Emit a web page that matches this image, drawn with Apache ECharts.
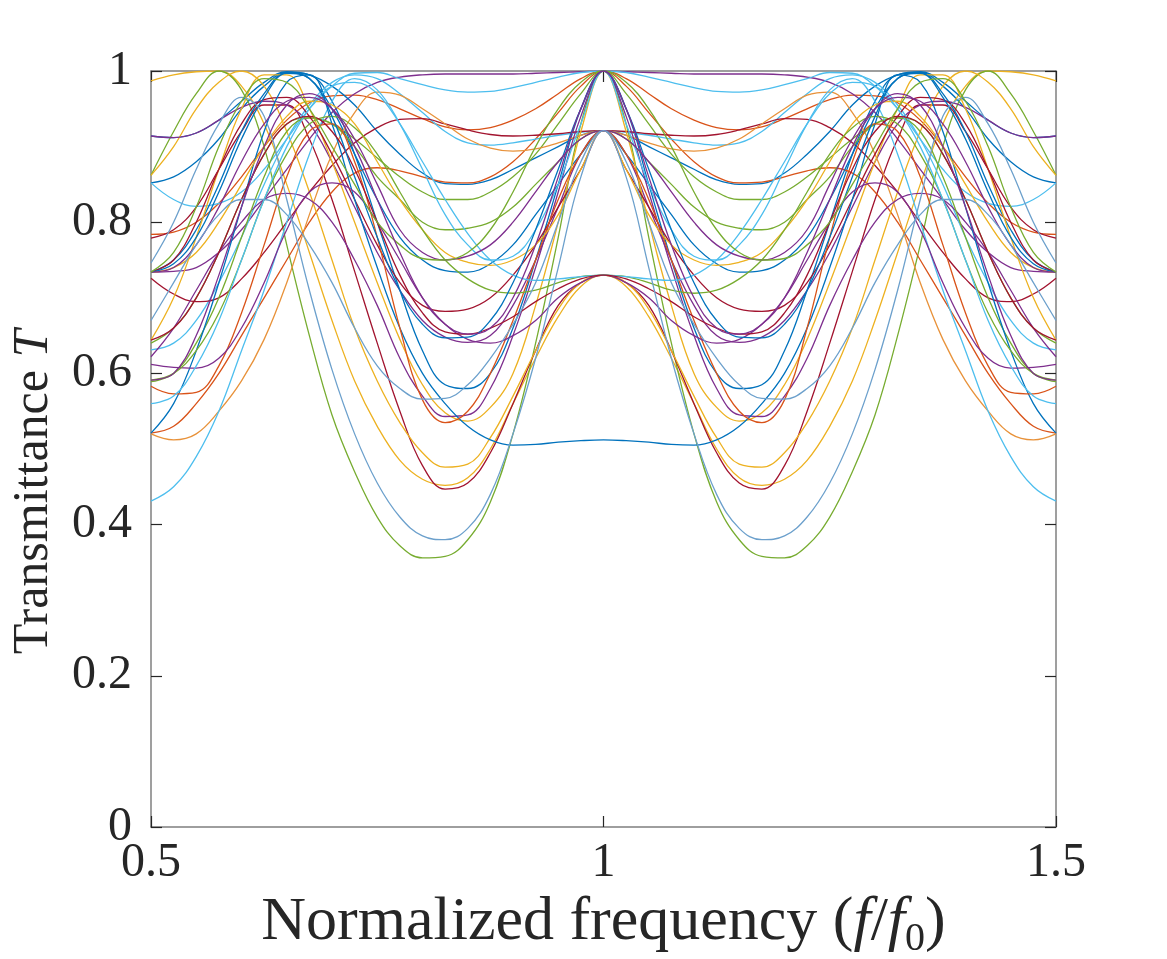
<!DOCTYPE html>
<html>
<head>
<meta charset="utf-8">
<title>Transmittance</title>
<script src="https://cdn.jsdelivr.net/npm/echarts@6/dist/echarts.min.js"></script>
<style>
  html, body { margin: 0; background: #fff; }
  #chart { width: 1167px; height: 959px; }
</style>
</head>
<body>
<div id="chart"></div>
<script>
// normalized frequency samples (f/f0)
const freq = [0.5, 0.525, 0.55, 0.575, 0.6, 0.625, 0.65, 0.675, 0.7, 0.725, 0.75, 0.775, 0.8, 0.825, 0.85, 0.875, 0.9, 0.925, 0.95, 0.975, 1,
  1.025, 1.05, 1.075, 1.1, 1.125, 1.15, 1.175, 1.2, 1.225, 1.25, 1.275, 1.3, 1.325, 1.35, 1.375, 1.4, 1.425, 1.45, 1.475, 1.5];

// transmittance curves
const greenA = [.862,.92,.97,1,.975,.9,.77,.65,.545,.47,.41,.372,.356,.358,.38,.43,.52,.64,.78,.93,1,.93,.78,.64,.52,.43,.38,.358,.356,.372,.41,.47,.545,.65,.77,.9,.975,1,.97,.92,.862];
const steelA = [.746,.8,.87,.93,.965,.94,.83,.71,.605,.52,.455,.41,.385,.38,.395,.44,.52,.62,.74,.86,.921,.86,.74,.62,.52,.44,.395,.38,.385,.41,.455,.52,.605,.71,.83,.94,.965,.93,.87,.8,.746];
const redA = [.779,.79,.82,.87,.92,.955,.955,.91,.83,.735,.64,.55,.478,.447,.455,.495,.56,.63,.69,.72,.73,.72,.69,.63,.56,.495,.455,.447,.478,.55,.64,.735,.83,.91,.955,.955,.92,.87,.82,.79,.779];
const yellowA = [.987,.995,.999,1,.98,.93,.85,.76,.67,.59,.53,.485,.46,.452,.462,.5,.56,.62,.675,.715,.73,.715,.675,.62,.56,.5,.462,.452,.46,.485,.53,.59,.67,.76,.85,.93,.98,1,.999,.995,.987];
const yellowB = [.862,.9,.95,.985,1,.98,.92,.84,.75,.66,.59,.535,.495,.476,.48,.515,.57,.63,.685,.72,.73,.72,.685,.63,.57,.515,.48,.476,.495,.535,.59,.66,.75,.84,.92,.98,1,.985,.95,.9,.862];
const yellowC = [.644,.7,.78,.87,.95,.995,.995,.95,.88,.8,.72,.645,.585,.548,.537,.555,.6,.69,.8,.92,1,.92,.8,.69,.6,.555,.537,.548,.585,.645,.72,.8,.88,.95,.995,.995,.95,.87,.78,.7,.644];
const yellowD = [.734,.74,.76,.8,.85,.9,.94,.96,.955,.93,.88,.83,.79,.76,.747,.743,.75,.77,.81,.87,.921,.87,.81,.77,.75,.743,.747,.76,.79,.83,.88,.93,.955,.96,.94,.9,.85,.8,.76,.74,.734];
const blueA = [.852,.86,.88,.91,.95,.98,.998,.995,.96,.89,.8,.71,.63,.585,.58,.6,.66,.75,.85,.95,1,.95,.85,.75,.66,.6,.58,.585,.63,.71,.8,.89,.96,.995,.998,.98,.95,.91,.88,.86,.852];
const blueB = [.914,.912,.918,.935,.96,.985,.999,.995,.98,.955,.92,.89,.865,.851,.85,.856,.87,.885,.9,.915,.921,.915,.9,.885,.87,.856,.85,.851,.865,.89,.92,.955,.98,.995,.999,.985,.96,.935,.918,.912,.914];
const blueC = [.734,.75,.79,.85,.92,.97,.998,.99,.95,.89,.83,.78,.75,.736,.734,.745,.77,.81,.85,.89,.921,.89,.85,.81,.77,.745,.734,.736,.75,.78,.83,.89,.95,.99,.998,.97,.92,.85,.79,.75,.734];
const blueD = [.521,.56,.63,.72,.82,.92,.985,.995,.93,.83,.74,.66,.6,.56,.53,.512,.505,.506,.509,.511,.512,.511,.509,.506,.505,.512,.53,.56,.6,.66,.74,.83,.93,.995,.985,.92,.82,.72,.63,.56,.521];
const blueE = [.734,.745,.78,.84,.91,.965,.997,.99,.94,.86,.78,.71,.665,.647,.648,.67,.72,.79,.87,.95,1,.95,.87,.79,.72,.67,.648,.647,.665,.71,.78,.86,.94,.99,.997,.965,.91,.84,.78,.745,.734];
const purpleA = [.734,.735,.74,.76,.79,.83,.87,.91,.945,.97,.985,.992,.995,.996,.996,.996,.996,.997,.998,.999,1,.999,.998,.997,.996,.996,.996,.996,.995,.992,.985,.97,.945,.91,.87,.83,.79,.76,.74,.735,.734];
const purpleB = [.914,.912,.918,.935,.952,.96,.955,.93,.88,.82,.76,.71,.67,.648,.641,.65,.69,.75,.82,.89,.921,.89,.82,.75,.69,.65,.641,.648,.67,.71,.76,.82,.88,.93,.955,.96,.952,.935,.918,.912,.914];
const purpleC = [.622,.66,.71,.76,.8,.83,.838,.83,.8,.75,.69,.62,.57,.543,.545,.58,.65,.74,.84,.94,1,.94,.84,.74,.65,.58,.545,.543,.57,.62,.69,.75,.8,.83,.838,.83,.8,.76,.71,.66,.622];
const purpleD = [.612,.608,.607,.62,.66,.72,.79,.84,.852,.84,.8,.75,.7,.665,.645,.64,.65,.67,.7,.72,.73,.72,.7,.67,.65,.64,.645,.665,.7,.75,.8,.84,.852,.84,.79,.72,.66,.62,.607,.608,.612];
const purpleE = [.734,.74,.77,.82,.88,.93,.96,.965,.95,.91,.85,.79,.76,.75,.755,.77,.8,.84,.88,.91,.921,.91,.88,.84,.8,.77,.755,.75,.76,.79,.85,.91,.95,.965,.96,.93,.88,.82,.77,.74,.734];
const purpleF = [.591,.6,.65,.73,.82,.9,.955,.97,.95,.9,.83,.76,.7,.665,.652,.66,.7,.77,.86,.95,1,.95,.86,.77,.7,.66,.652,.665,.7,.76,.83,.9,.95,.97,.955,.9,.82,.73,.65,.6,.591];
const orangeA = [.784,.787,.8,.825,.86,.9,.935,.958,.967,.968,.962,.95,.937,.926,.922,.925,.935,.95,.97,.99,1,.99,.97,.95,.935,.925,.922,.926,.937,.95,.962,.968,.967,.958,.935,.9,.86,.825,.8,.787,.784];
const orangeB = [.521,.53,.56,.6,.65,.7,.75,.8,.84,.865,.872,.868,.86,.853,.852,.86,.88,.91,.945,.98,1,.98,.945,.91,.88,.86,.852,.853,.86,.868,.872,.865,.84,.8,.75,.7,.65,.6,.56,.53,.521];
const orangeC = [.52,.512,.52,.55,.59,.645,.72,.81,.89,.945,.972,.968,.95,.93,.91,.898,.894,.897,.905,.915,.921,.915,.905,.897,.894,.898,.91,.93,.95,.968,.972,.945,.89,.81,.72,.645,.59,.55,.52,.512,.52];
const orangeD = [.583,.573,.575,.61,.68,.77,.86,.92,.93,.88,.78,.66,.565,.535,.55,.6,.67,.75,.83,.89,.921,.89,.83,.75,.67,.6,.55,.535,.565,.66,.78,.88,.93,.92,.86,.77,.68,.61,.575,.573,.583];
const greenB = [.64,.66,.7,.76,.83,.89,.93,.938,.93,.91,.885,.86,.84,.83,.83,.84,.86,.89,.93,.97,1,.97,.93,.89,.86,.84,.83,.83,.84,.86,.885,.91,.93,.938,.93,.89,.83,.76,.7,.66,.64];
const greenC = [.589,.6,.64,.7,.78,.86,.92,.938,.93,.9,.86,.83,.8,.79,.792,.8,.82,.85,.88,.91,.921,.91,.88,.85,.82,.8,.792,.79,.8,.83,.86,.9,.93,.938,.92,.86,.78,.7,.64,.6,.589];
const greenD = [.591,.6,.63,.68,.75,.83,.89,.93,.94,.925,.89,.84,.79,.75,.725,.71,.706,.71,.72,.728,.73,.728,.72,.71,.706,.71,.725,.75,.79,.84,.89,.925,.94,.93,.89,.83,.75,.68,.63,.6,.591];
const greenE = [.734,.76,.82,.9,.96,.99,.985,.95,.9,.85,.8,.77,.752,.75,.76,.79,.84,.9,.95,.985,1,.985,.95,.9,.84,.79,.76,.75,.752,.77,.8,.85,.9,.95,.985,.99,.96,.9,.82,.76,.734];
const cyanA = [.852,.83,.821,.825,.84,.87,.91,.95,.98,.997,.998,.99,.982,.975,.972,.973,.978,.985,.992,.998,1,.998,.992,.985,.978,.973,.972,.975,.982,.99,.998,.997,.98,.95,.91,.87,.84,.825,.821,.83,.852];
const cyanB = [.631,.64,.67,.72,.78,.85,.91,.955,.985,.995,.99,.97,.945,.92,.905,.902,.905,.91,.915,.919,.921,.919,.915,.91,.905,.902,.905,.92,.945,.97,.99,.995,.985,.955,.91,.85,.78,.72,.67,.64,.631];
const cyanC = [.431,.45,.49,.55,.63,.71,.8,.89,.96,.99,.975,.93,.87,.81,.77,.75,.755,.79,.85,.93,1,.93,.85,.79,.755,.75,.77,.81,.87,.93,.975,.99,.96,.89,.8,.71,.63,.55,.49,.45,.431];
const cyanD = [.56,.57,.61,.67,.75,.83,.9,.95,.98,.985,.97,.93,.88,.83,.785,.75,.73,.723,.725,.728,.73,.728,.725,.723,.73,.75,.785,.83,.88,.93,.97,.985,.98,.95,.9,.83,.75,.67,.61,.57,.56];
const redB = [.726,.705,.695,.7,.725,.76,.8,.84,.875,.905,.925,.936,.937,.93,.922,.916,.914,.915,.917,.92,.921,.92,.917,.915,.914,.916,.922,.93,.937,.936,.925,.905,.875,.84,.8,.76,.725,.7,.695,.705,.726];
const redC = [.734,.75,.8,.87,.93,.962,.965,.94,.89,.83,.77,.72,.69,.682,.685,.7,.73,.77,.82,.87,.921,.87,.82,.77,.73,.7,.685,.682,.69,.72,.77,.83,.89,.94,.965,.962,.93,.87,.8,.75,.734];
const redD = [.644,.66,.7,.76,.83,.89,.93,.94,.92,.87,.8,.73,.68,.655,.652,.66,.675,.695,.712,.725,.73,.725,.712,.695,.675,.66,.652,.655,.68,.73,.8,.87,.92,.94,.93,.89,.83,.76,.7,.66,.644];
const steelB = [.67,.72,.77,.81,.83,.83,.81,.77,.72,.66,.61,.58,.566,.567,.585,.62,.665,.72,.8,.88,.921,.88,.8,.72,.665,.62,.585,.567,.566,.58,.61,.66,.72,.77,.81,.83,.83,.81,.77,.72,.67];

const yTicks = [0, 0.2, 0.4, 0.6, 0.8, 1];
const xTicks = [0.5, 1, 1.5];

// matlab default line colours
const C = {
  blue: '#0072BD', orange: '#D95319', yellow: '#EDB120', purple: '#7E2F8E',
  green: '#77AC30', cyan: '#4DBEEE', red: '#A2142F', steel: '#6CA0CC', lorange: '#E8923A'
};

const lines = [
  [blueA, C.blue], [orangeA, C.orange], [yellowA, C.yellow], [purpleA, C.purple], [greenA, C.green], [cyanA, C.cyan], [redA, C.red],
  [blueB, C.blue], [orangeB, C.orange], [yellowB, C.yellow], [purpleB, C.purple], [greenB, C.green], [cyanB, C.cyan], [redB, C.red],
  [blueC, C.blue], [orangeC, C.lorange], [yellowC, C.yellow], [purpleC, C.purple], [greenC, C.green], [cyanC, C.cyan], [redC, C.red],
  [blueD, C.blue], [orangeD, C.orange], [yellowD, C.yellow], [purpleD, C.purple], [greenD, C.green], [cyanD, C.cyan], [redD, C.red],
  [blueE, C.blue], [steelA, C.steel], [purpleE, C.purple], [greenE, C.green], [steelB, C.steel], [purpleF, C.purple]
];

const font = '"Liberation Serif", "DejaVu Serif", serif';
const ink = '#262626';
const frame = { show: true, onZero: false, lineStyle: { color: '#7f7f7f', width: 1.5 } };
const tick = { show: true, inside: true, length: 11, lineStyle: { color: ink, width: 1.2 } };

const chart = echarts.init(document.getElementById('chart'), null, { renderer: 'canvas' });

const series = lines.map(([vals, color]) => ({
  type: 'line',
  data: freq.map((f, i) => [f, vals[i]]),
  smooth: 0.4,
  showSymbol: false,
  silent: true,
  lineStyle: { color, width: 1.3 },
  xAxisIndex: 0,
  yAxisIndex: 0
}));

chart.setOption({
  animation: false,
  backgroundColor: '#fff',
  grid: { left: 151, top: 71, width: 905, height: 756, containLabel: false, outerBoundsMode: 'none' },
  xAxis: [{
    type: 'value', position: 'bottom', min: 0.5, max: 1.5, interval: 0.5,
    axisLine: frame, axisTick: tick, splitLine: { show: false },
    axisLabel: { color: ink, fontFamily: font, fontSize: 48, margin: 12, customValues: xTicks },
    name: '{n|Normalized frequency (}{i|f}{n|/}{i|f}{s|0}{n|)}',
    nameLocation: 'middle', nameGap: 62,
    nameTextStyle: {
      color: ink, fontFamily: font, fontSize: 62,
      rich: {
        n: { fontFamily: font, fontSize: 62, lineHeight: 66, verticalAlign: 'top', color: ink },
        i: { fontFamily: font, fontSize: 62, lineHeight: 66, verticalAlign: 'top', fontStyle: 'italic', color: ink },
        s: { fontFamily: font, fontSize: 40, lineHeight: 40, verticalAlign: 'top', padding: [28, 0, 0, 0], color: ink }
      }
    }
  }, {
    type: 'value', position: 'top', min: 0.5, max: 1.5, interval: 0.5,
    axisLine: frame, axisTick: tick, axisLabel: { show: false }, splitLine: { show: false }
  }],
  yAxis: [{
    type: 'value', position: 'left', min: 0, max: 1, interval: 0.2,
    axisLine: frame, axisTick: tick, splitLine: { show: false },
    axisLabel: { color: ink, fontFamily: font, fontSize: 48, margin: 19, customValues: yTicks },
    name: 'Transmittance {i|T}',
    nameLocation: 'middle', nameGap: 92,
    nameTextStyle: {
      color: ink, fontFamily: font, fontSize: 50, padding: [0, 86, 0, 0],
      rich: { i: { fontFamily: font, fontSize: 50, fontStyle: 'italic', color: ink } }
    }
  }, {
    type: 'value', position: 'right', min: 0, max: 1, interval: 0.2,
    axisLine: frame, axisTick: tick, axisLabel: { show: false }, splitLine: { show: false }
  }],
  series
});
</script>
</body>
</html>
